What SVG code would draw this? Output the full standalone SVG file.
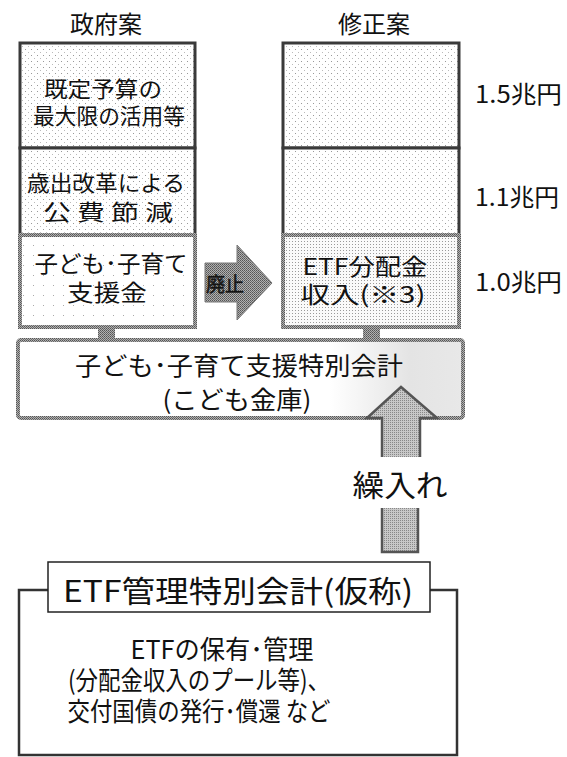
<svg xmlns="http://www.w3.org/2000/svg" width="567" height="757" viewBox="0 0 567 757">
<defs>
<pattern id="dots" width="6" height="6" patternUnits="userSpaceOnUse">
<rect width="6" height="6" fill="#fff"/>
<rect x="1" y="1" width="1" height="1" fill="#999"/>
<rect x="4" y="4" width="1" height="1" fill="#bbb"/>
</pattern>
<pattern id="dense" width="3" height="3" patternUnits="userSpaceOnUse">
<rect width="3" height="3" fill="#fafafa"/>
<rect x="1" y="1" width="1" height="1" fill="#9a9a9a"/>
</pattern>
<pattern id="sparse" width="10" height="10" patternUnits="userSpaceOnUse">
<rect width="10" height="10" fill="#fff"/>
<rect x="3" y="5" width="1" height="1" fill="#aaa"/>
</pattern>
<pattern id="tex" width="2" height="2" patternUnits="userSpaceOnUse">
<rect width="2" height="2" fill="#b0b0b0"/>
<rect width="1" height="1" fill="#555"/>
<rect x="1" y="1" width="1" height="1" fill="#6a6a6a"/>
</pattern>
<pattern id="arrowtex" width="2" height="2" patternUnits="userSpaceOnUse">
<rect width="2" height="2" fill="#c8c8c8"/>
<rect width="1" height="1" fill="#888"/>
</pattern>
<linearGradient id="bigfade" x1="0" y1="0" x2="1" y2="0">
<stop offset="0" stop-color="#fff"/>
<stop offset="0.7" stop-color="#fff"/>
<stop offset="0.88" stop-color="#e4e4e4"/>
<stop offset="1" stop-color="#e8e8e8"/>
</linearGradient>
</defs>
<style>
text{font-family:"Noto Sans CJK JP","Liberation Sans",sans-serif;fill:#111;dominant-baseline:central;text-anchor:middle}
.dark{stroke:#3a3a3a;stroke-width:3}
.grayb{stroke:url(#tex);stroke-width:4}
.hdr{font-size:24px}
.b{font-size:22px}
.m{font-size:23px}
.val{font-size:24px;text-anchor:start}
</style>
<rect width="567" height="757" fill="#fff"/>

<g id="header-gov"><text class="hdr" x="106" y="22">政府案</text></g>
<g id="header-rev"><text class="hdr" x="374" y="22">修正案</text></g>

<g id="gov-existing">
<rect x="20" y="43" width="175" height="105" fill="url(#dots)" class="dark"/>
<text class="b" x="103" y="87" textLength="118" lengthAdjust="spacingAndGlyphs">既定予算の</text>
<text class="b" x="109" y="114" textLength="152" lengthAdjust="spacingAndGlyphs">最大限の活用等</text>
</g>
<g id="gov-reform">
<rect x="20" y="148" width="175" height="87" fill="url(#dots)" class="dark"/>
<text class="b" x="106" y="181" textLength="158" lengthAdjust="spacingAndGlyphs">歳出改革による</text>
<text class="b" x="108" y="210" textLength="130" lengthAdjust="spacingAndGlyphs">公 費 節 減</text>
</g>
<g id="gov-support">
<rect x="20" y="235" width="175" height="92" fill="url(#sparse)" class="grayb"/>
<text class="m" x="111" y="262" textLength="153" lengthAdjust="spacingAndGlyphs">子ども･子育て</text>
<text class="m" x="107" y="291" textLength="80" lengthAdjust="spacingAndGlyphs">支援金</text>
</g>

<g id="rev-existing">
<rect x="283" y="43" width="176" height="105" fill="url(#dots)" class="dark"/>
</g>
<g id="rev-reform">
<rect x="283" y="148" width="176" height="87" fill="url(#dots)" class="dark"/>
</g>
<g id="rev-etf">
<rect x="283" y="235" width="176" height="92" fill="url(#dense)" class="grayb"/>
<text class="m" x="365" y="265" textLength="125" lengthAdjust="spacingAndGlyphs">ETF分配金</text>
<text class="m" x="363" y="293" textLength="125" lengthAdjust="spacingAndGlyphs">収入(※3)</text>
</g>

<g id="values">
<text class="val" x="475" y="92" textLength="87" lengthAdjust="spacingAndGlyphs">1.5兆円</text>
<text class="val" x="475" y="195" textLength="84" lengthAdjust="spacingAndGlyphs">1.1兆円</text>
<text class="val" x="475" y="280" textLength="87" lengthAdjust="spacingAndGlyphs">1.0兆円</text>
</g>

<g id="kodomo-account">
<rect x="18" y="340" width="445" height="78" rx="3" fill="url(#bigfade)" class="grayb"/>
<text x="239" y="364" font-size="25" textLength="328" lengthAdjust="spacingAndGlyphs">子ども･子育て支援特別会計</text>
<text x="237" y="398" font-size="25" textLength="149" lengthAdjust="spacingAndGlyphs">(こども金庫)</text>
</g>

<g id="connectors">
<rect x="98" y="327" width="17" height="14" fill="url(#tex)"/>
<rect x="363" y="327" width="17" height="14" fill="url(#tex)"/>
<g id="abolish-arrow">
<path d="M205,263 L237,263 L237,245 L272,283 L237,320 L237,302 L205,302 Z" fill="url(#tex)" stroke="#777" stroke-width="1"/>
<text x="225" y="283" font-size="20" fill="#fff" stroke="#222" stroke-width="0.7" textLength="38" lengthAdjust="spacingAndGlyphs">廃止</text>
</g>
<g id="transfer-arrow">
<path d="M382,457 L382,418 L367,418 L401,387 L437,418 L420,418 L420,457" fill="url(#arrowtex)" stroke="#555" stroke-width="2.5"/>
<path d="M382,508 L382,552 L418,552 L418,508" fill="url(#arrowtex)" stroke="#555" stroke-width="2.5"/>
<text x="400" y="483" font-size="30" textLength="95" lengthAdjust="spacingAndGlyphs">繰入れ</text>
</g>
</g>

<g id="etf-account">
<rect x="19" y="590" width="438" height="165" fill="#fff" stroke="#333" stroke-width="2.5"/>
<rect x="48" y="562" width="382" height="50" fill="#fff" stroke="#222" stroke-width="1.5"/>
<text x="238" y="589" font-size="30" textLength="350" lengthAdjust="spacingAndGlyphs">ETF管理特別会計(仮称)</text>
<text x="222" y="647" font-size="26" textLength="183" lengthAdjust="spacingAndGlyphs">ETFの保有･管理</text>
<text x="199" y="678" font-size="26" textLength="262" lengthAdjust="spacingAndGlyphs">(分配金収入のプール等)、</text>
<text x="199" y="709" font-size="26" textLength="263" lengthAdjust="spacingAndGlyphs">交付国債の発行･償還 など</text>
</g>
</svg>
